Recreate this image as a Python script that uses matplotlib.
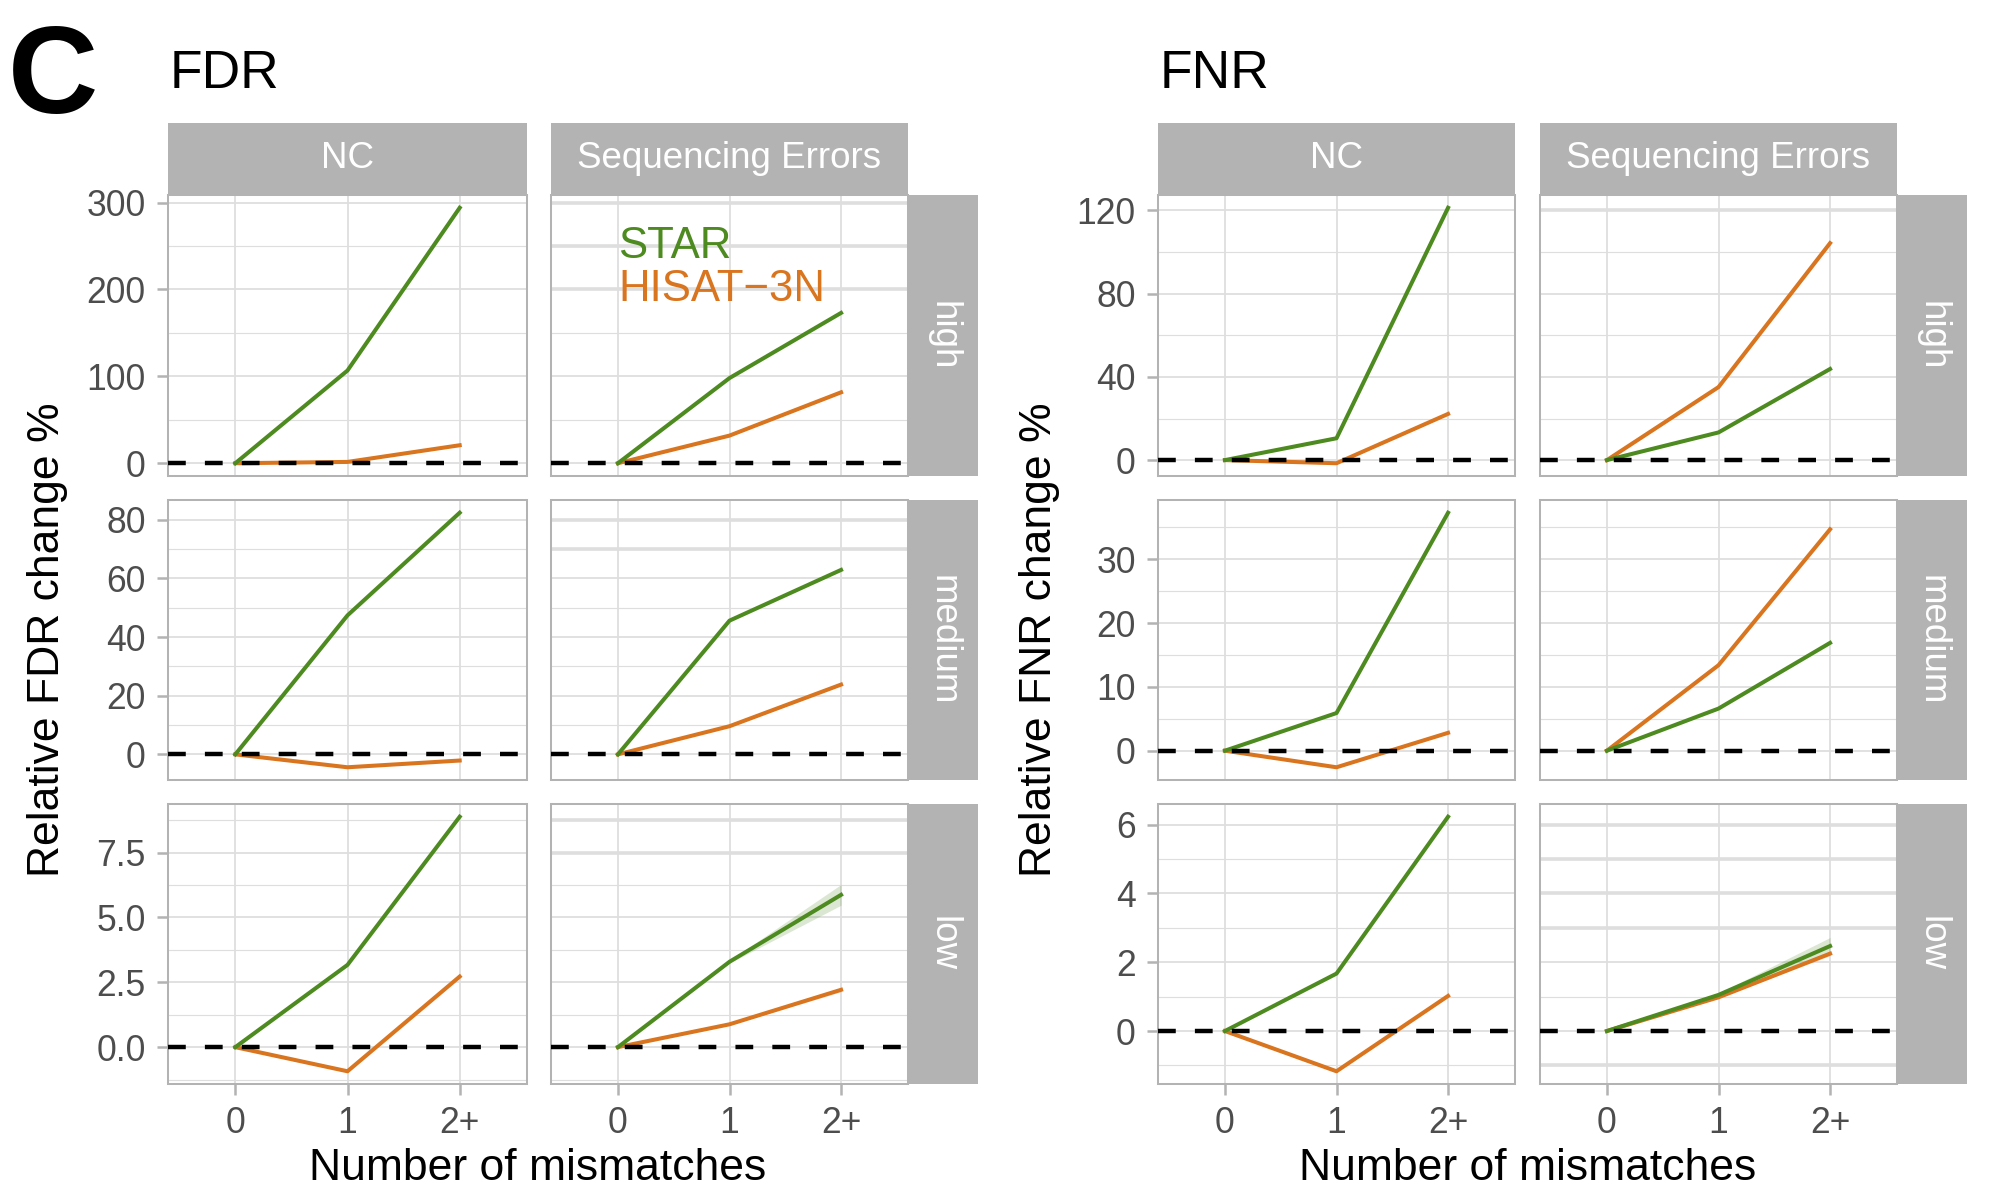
import matplotlib
matplotlib.use("Agg")
import matplotlib.pyplot as plt
from matplotlib.ticker import FixedLocator, AutoMinorLocator, NullLocator
import numpy as np

# ---------------- data ----------------
mismatch_labels = ["0", "1", "2+"]
error_types = ["NC", "Sequencing Errors"]
depth_levels = ["high", "medium", "low"]
aligners = ["STAR", "HISAT\u22123N"]

# FDR (rows: high, medium, low)
fdr_star_nc = [[0, 106.7, 294.0], [0, 47.4, 82.4], [0, 3.17, 8.88]]
fdr_hisat_nc = [[0, 1.5, 20.7], [0, -4.4, -2.1], [0, -0.93, 2.72]]
fdr_star_se = [[0, 98.0, 173.0], [0, 45.6, 62.9], [0, 3.29, 5.87]]
fdr_hisat_se = [[0, 31.8, 81.6], [0, 9.6, 23.8], [0, 0.88, 2.21]]
fdr_star_se_ci = [[0, 0, 0], [0, 0, 0], [0, 0.05, 0.40]]
fdr_hisat_se_ci = [[0, 0, 0], [0, 0, 0], [0, 0.02, 0.08]]
fdr_ticks = [[0, 100, 200, 300], [0, 20, 40, 60, 80], [0, 2.5, 5.0, 7.5]]
fdr_tick_labels = [["0", "100", "200", "300"], ["0", "20", "40", "60", "80"],
                   ["0.0", "2.5", "5.0", "7.5"]]

# FNR
fnr_star_nc = [[0, 10.5, 121.3], [0, 5.9, 37.3], [0, 1.67, 6.23]]
fnr_hisat_nc = [[0, -1.5, 22.2], [0, -2.6, 2.8], [0, -1.17, 1.02]]
fnr_star_se = [[0, 13.3, 43.8], [0, 6.6, 16.9], [0, 1.05, 2.47]]
fnr_hisat_se = [[0, 35.1, 104.3], [0, 13.4, 34.7], [0, 0.98, 2.25]]
fnr_star_se_ci = [[0, 0, 0], [0, 0, 0], [0, 0.05, 0.25]]
fnr_hisat_se_ci = [[0, 0, 0], [0, 0, 0], [0, 0.02, 0.06]]
fnr_ticks = [[0, 40, 80, 120], [0, 10, 20, 30], [0, 2, 4, 6]]
fnr_tick_labels = [["0", "40", "80", "120"], ["0", "10", "20", "30"],
                   ["0", "2", "4", "6"]]

# heavier grid lines seen in the Sequencing Errors column
fdr_se_heavy_grid = [[300, 250, 200], [80, 70], [8.75, 7.5]]
fnr_se_heavy_grid = [[120], [], [6, 5, 4, 3, -1]]

# ---------------- style ----------------
plt.rcParams["font.family"] = ["Liberation Sans", "DejaVu Sans"]
GREEN = "#4D8A1F"
ORANGE = "#D9741F"
STRIP = "#B3B3B3"
GRID = "#DEDEDE"
TICKTXT = "#4D4D4D"
LW = 2.9

W, H = 2005, 1200
fig = plt.figure(figsize=(W / 100, H / 100), dpi=100)


def ax_px(x0, y0, x1, y1):
    return fig.add_axes([x0 / W, 1 - y1 / H, (x1 - x0) / W, (y1 - y0) / H])


rows_px = [(195, 476), (500, 780), (804, 1084)]
strip_top_px = (123, 195)


def draw_group(col_px, strip_px, star_nc, hisat_nc, star_se, hisat_se,
               star_ci, hisat_ci, ticks, tick_labels, heavy, legend):
    x = np.arange(len(mismatch_labels))
    for r, (y0, y1) in enumerate(rows_px):
        vals = (star_nc[r] + hisat_nc[r]
                + list(np.array(star_se[r]) + np.array(star_ci[r]))
                + list(np.array(star_se[r]) - np.array(star_ci[r]))
                + list(np.array(hisat_se[r]) + np.array(hisat_ci[r]))
                + list(np.array(hisat_se[r]) - np.array(hisat_ci[r])) + [0])
        lo, hi = min(vals), max(vals)
        span = hi - lo
        ylim = (lo - 0.05 * span, hi + 0.05 * span)
        for c, (cx0, cx1) in enumerate(col_px):
            ax = ax_px(cx0, y0, cx1, y1)
            ax.set_xlim(-0.6, 2.6)
            ax.set_ylim(*ylim)
            ax.yaxis.set_major_locator(FixedLocator(ticks[r]))
            ax.yaxis.set_minor_locator(AutoMinorLocator(2))
            ax.xaxis.set_major_locator(FixedLocator(x))
            ax.xaxis.set_minor_locator(NullLocator())
            ax.grid(True, which="major", color=GRID, lw=1.3, zorder=0)
            ax.grid(True, which="minor", axis="y", color=GRID, lw=0.85, zorder=0)
            ax.set_axisbelow(True)
            for s in ax.spines.values():
                s.set_color(STRIP)
                s.set_linewidth(1.45)
            ax.tick_params(which="major", length=8, width=1.8, color=STRIP,
                           labelsize=25.6, labelcolor=TICKTXT, pad=8)
            ax.tick_params(which="minor", length=0)
            if c == 0:
                ax.set_yticklabels(tick_labels[r])
            else:
                ax.tick_params(axis="y", which="both", length=0,
                               labelleft=False)
            if r == len(rows_px) - 1:
                ax.set_xticklabels(mismatch_labels)
            else:
                ax.tick_params(axis="x", length=0, labelbottom=False)

            if c == 1:
                for yv in heavy[r]:
                    ax.axhline(yv, color=GRID, lw=2.6, zorder=0.5)
                s_ci = np.array(star_ci[r])
                h_ci = np.array(hisat_ci[r])
                sv = np.array(star_se[r])
                hv = np.array(hisat_se[r])
                ax.fill_between(x, hv - h_ci, hv + h_ci, color=ORANGE,
                                alpha=0.2, lw=0, zorder=1)
                ax.fill_between(x, sv - s_ci, sv + s_ci, color=GREEN,
                                alpha=0.2, lw=0, zorder=1)
                ax.plot(x, hv, color=ORANGE, lw=LW, zorder=2,
                        solid_joinstyle="round")
                ax.plot(x, sv, color=GREEN, lw=LW, zorder=2.1,
                        solid_joinstyle="round")
            else:
                ax.plot(x, hisat_nc[r], color=ORANGE, lw=LW, zorder=2,
                        solid_joinstyle="round")
                ax.plot(x, star_nc[r], color=GREEN, lw=LW, zorder=2.1,
                        solid_joinstyle="round")
            ax.axhline(0, color="black", lw=3.2, ls=(0, (4.0, 4.3)), zorder=3)

            if legend and r == 0 and c == 1:
                ax.text(0, 250, aligners[0], color=GREEN, fontsize=31.5,
                        ha="left", va="center", zorder=4)
                ax.text(0, 200, aligners[1], color=ORANGE, fontsize=31.5,
                        ha="left", va="center", zorder=4)

            if r == 0:
                sax = ax_px(cx0, strip_top_px[0], cx1, strip_top_px[1])
                sax.set_facecolor(STRIP)
                sax.set_xticks([]); sax.set_yticks([])
                for s in sax.spines.values():
                    s.set_visible(False)
                sax.text(0.5, 0.5, error_types[c], color="white",
                         fontsize=26.5, ha="center", va="center",
                         transform=sax.transAxes)
        rax = ax_px(strip_px[0], y0, strip_px[1], y1)
        rax.set_facecolor(STRIP)
        rax.set_xticks([]); rax.set_yticks([])
        for s in rax.spines.values():
            s.set_visible(False)
        rax.text(0.5, 0.5, depth_levels[r], color="white", fontsize=26.5,
                 ha="center", va="center", rotation=-90,
                 transform=rax.transAxes)


left_cols = [(168, 527), (551, 908)]
right_cols = [(1158, 1515), (1540, 1897)]

draw_group(left_cols, (908, 978), fdr_star_nc, fdr_hisat_nc, fdr_star_se,
           fdr_hisat_se, fdr_star_se_ci, fdr_hisat_se_ci, fdr_ticks,
           fdr_tick_labels, fdr_se_heavy_grid, True)
draw_group(right_cols, (1897, 1967), fnr_star_nc, fnr_hisat_nc, fnr_star_se,
           fnr_hisat_se, fnr_star_se_ci, fnr_hisat_se_ci, fnr_ticks,
           fnr_tick_labels, fnr_se_heavy_grid, False)

# titles and labels
fig.text(8 / W, 1 - 113 / H, "C", fontsize=90, fontweight="bold",
         ha="left", va="baseline")
fig.text(170 / W, 1 - 88 / H, "FDR", fontsize=38.4, ha="left", va="baseline")
fig.text(1160 / W, 1 - 88 / H, "FNR", fontsize=38.4, ha="left", va="baseline")
fig.text(48 / W, 1 - 640 / H, "Relative FDR change %", fontsize=32,
         rotation=90, ha="center", va="center")
fig.text(1040 / W, 1 - 640 / H, "Relative FNR change %", fontsize=32,
         rotation=90, ha="center", va="center")
fig.text(538 / W, 1 - 1180 / H, "Number of mismatches", fontsize=32,
         ha="center", va="baseline")
fig.text(1528 / W, 1 - 1180 / H, "Number of mismatches", fontsize=32,
         ha="center", va="baseline")

fig.savefig("out.png", dpi=100, facecolor="white")
